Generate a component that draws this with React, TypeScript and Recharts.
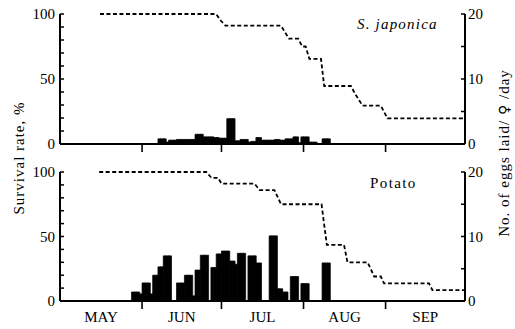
import React from "react";
import { ComposedChart, Bar, Line, XAxis, YAxis } from "recharts";

// day 0 = 1 May; days run to the end of September
const monthStarts = [0, 31, 61, 92, 123, 153];
const monthNames = ["MAY", "JUN", "JUL", "AUG", "SEP"];

const survivalTicks = [0, 10, 20, 30, 40, 50, 60, 70, 80, 90, 100];
const eggTicks = [0, 5, 10, 15, 20];

// [first day, last day, eggs laid per female per day]
const japonicaEggs = [
  [37, 39, 0.8], [40, 40, 0.3], [41, 43, 0.6], [44, 45, 0.7], [46, 50, 0.7],
  [51, 53, 1.5], [54, 57, 1.1], [58, 59, 1.0], [60, 62, 0.9], [63, 65, 3.9],
  [66, 67, 0.5], [68, 70, 0.7], [71, 71, 0.3], [72, 73, 0.4], [74, 75, 1.0],
  [76, 77, 0.6], [78, 80, 0.6], [81, 82, 0.7], [83, 84, 0.6], [85, 87, 0.8],
  [88, 89, 1.1], [90, 90, 0.2], [91, 93, 1.1], [94, 96, 0.3], [99, 101, 0.8],
];

const potatoEggs = [
  [27, 29, 1.4], [30, 30, 1.1], [31, 33, 2.8], [34, 34, 1.1], [35, 36, 4.0],
  [37, 38, 5.3], [39, 41, 7.0], [44, 46, 2.8], [47, 49, 4.0], [50, 50, 0.8],
  [51, 52, 4.8], [53, 55, 7.1], [57, 58, 5.2], [59, 60, 7.3], [61, 63, 7.75],
  [64, 65, 6.2], [66, 66, 5.7], [67, 69, 7.4], [71, 73, 7.0], [74, 75, 5.9],
  [79, 81, 10.1], [82, 83, 1.9], [84, 85, 1.4], [87, 89, 3.8], [91, 93, 2.7],
  [99, 101, 5.9],
];

// [day, survival %]
const japonicaSurvival = [
  [15.1, 100], [59.0, 100], [60.5, 95.5], [62.5, 91], [83.5, 91], [86.5, 81],
  [90.0, 81], [91.5, 75], [92.8, 75], [94.2, 65.5], [98.6, 65.5], [99.8, 44.6],
  [109.9, 44.6], [111.5, 38.5], [114.3, 29.5], [121.2, 29.5], [123.7, 19.7],
  [152.5, 19.7],
];

const potatoSurvival = [
  [14.8, 100], [55.3, 100], [57.2, 95.5], [59.7, 95.5], [61.0, 91], [73.5, 91],
  [75.4, 86], [81.0, 86], [83.5, 75], [98.8, 75], [100.8, 43.5], [107.3, 43.5],
  [108.6, 30], [116.2, 30], [118.7, 19], [121.2, 19], [122.4, 13.6],
  [139.4, 13.6], [140.7, 8.4], [152.6, 8.4],
];

const serif = '"Liberation Serif", "Times New Roman", Times, serif';

// one bar per day, spread out of the blocks
function dailyEggs(blocks: number[][]) {
  const rows: { x: number; eggs: number }[] = [];
  blocks.forEach(([a, b, v]) => {
    for (let d = a; d <= b; d++) rows.push({ x: d + 0.5, eggs: v });
  });
  return rows;
}

const survivalRows = (pts: number[][]) => pts.map(([d, p]) => ({ x: d, surv: p }));

const boundaries = monthStarts.slice(1, -1);
const midpoints = monthNames.map((_, i) => (monthStarts[i] + monthStarts[i + 1]) / 2);

const MonthTick = (props: any) => {
  const { x, y, payload, showLabels } = props;
  const i = midpoints.indexOf(payload.value);
  if (i >= 0) {
    if (!showLabels) return <g />;
    return (
      <text x={x} y={y + 21} textAnchor="middle" fill="#000" fontSize={15} style={{ fontFamily: serif }}>
        {monthNames[i]}
      </text>
    );
  }
  return <line x1={x} x2={x} y1={y} y2={y + 8} stroke="#000" strokeWidth={1.6} />;
};

const W = 515;
const AXIS_W = 30;
const tickStyle = { fill: "#000", fontSize: 15, style: { fontFamily: serif } };
const axisLine = { stroke: "#000", strokeWidth: 2 };
const tickLine = { stroke: "#000", strokeWidth: 1.5 };

// bars + x axis + egg axis in one chart; survival line with its axis in an
// overlay chart so its x values don't shrink the bar width
const Panel = ({ eggs, surv, showLabels, height, margin }: any) => {
  const xH = showLabels ? 25 : 10;
  return (
    <div style={{ position: "relative", width: W, height }}>
      <div style={{ position: "absolute", left: 0, top: 0 }}>
        <ComposedChart
          width={W}
          height={height}
          data={eggs}
          margin={{ ...margin, left: margin.left + AXIS_W }}
          barCategoryGap={0}
          barGap={0}
        >
          <XAxis
            dataKey="x"
            type="number"
            domain={[0, 153]}
            ticks={showLabels ? [...boundaries, ...midpoints] : boundaries}
            interval={0}
            tickSize={0}
            tickMargin={0}
            height={xH}
            axisLine={axisLine}
            tickLine={false}
            tick={(p: any) => <MonthTick {...p} showLabels={showLabels} />}
          />
          <YAxis
            yAxisId="e"
            orientation="right"
            domain={[0, 20]}
            ticks={eggTicks}
            interval={0}
            width={AXIS_W}
            tickSize={-4}
            tickMargin={7}
            axisLine={axisLine}
            tickLine={tickLine}
            tick={tickStyle}
            tickFormatter={(v: number) => (v % 10 === 0 ? String(v) : "")}
          />
          <Bar yAxisId="e" dataKey="eggs" fill="#000" stroke="#000" strokeWidth={0.7} isAnimationActive={false} />
        </ComposedChart>
      </div>
      <div style={{ position: "absolute", left: 0, top: 0, pointerEvents: "none" }}>
        <ComposedChart
          width={W}
          height={height}
          data={surv}
          margin={{
            top: margin.top,
            bottom: margin.bottom + xH,
            left: margin.left,
            right: margin.right + AXIS_W,
          }}
        >
          <XAxis dataKey="x" type="number" domain={[0, 153]} hide />
          <YAxis
            domain={[0, 100]}
            ticks={survivalTicks}
            interval={0}
            width={AXIS_W}
            tickSize={-4}
            tickMargin={9}
            axisLine={axisLine}
            tickLine={tickLine}
            tick={tickStyle}
            tickFormatter={(v: number) => (v % 50 === 0 ? String(v) : "")}
          />
          <Line
            dataKey="surv"
            type="linear"
            stroke="#000"
            strokeWidth={1.8}
            strokeDasharray="4 2.5"
            dot={false}
            isAnimationActive={false}
          />
        </ComposedChart>
      </div>
    </div>
  );
};

export default function App() {
  const textStyle: React.CSSProperties = {
    position: "absolute",
    fontFamily: serif,
    fontSize: 15,
    color: "#000",
    whiteSpace: "nowrap",
    lineHeight: "16px",
  };
  return (
    <div style={{ position: "absolute", left: 0, top: 0, width: 515, height: 329, background: "#fff" }}>
      <div style={{ position: "absolute", left: 0, top: 0 }}>
        <Panel
          eggs={dailyEggs(japonicaEggs)}
          surv={survivalRows(japonicaSurvival)}
          height={160}
          margin={{ top: 14, right: 20, bottom: 6, left: 30 }}
        />
      </div>
      <div style={{ position: "absolute", left: 0, top: 160 }}>
        <Panel
          eggs={dailyEggs(potatoEggs)}
          surv={survivalRows(potatoSurvival)}
          showLabels
          height={169}
          margin={{ top: 12, right: 20, bottom: 3, left: 30 }}
        />
      </div>
      <div style={{ ...textStyle, left: 357, top: 16, fontStyle: "italic", letterSpacing: 1.2 }}>S. japonica</div>
      <div style={{ ...textStyle, left: 370, top: 175, letterSpacing: 1.4 }}>Potato</div>
      <div
        style={{
          ...textStyle,
          left: 19,
          top: 158,
          letterSpacing: 1,
          transform: "translate(-50%, -50%) rotate(-90deg)",
        }}
      >
        Survival rate, %
      </div>
      <div
        style={{
          ...textStyle,
          left: 504,
          top: 153,
          letterSpacing: 1,
          transform: "translate(-50%, -50%) rotate(-90deg)",
        }}
      >
        No. of eggs laid/ <span style={{ fontSize: 14, fontFamily: "'DejaVu Sans', sans-serif" }}>♀</span> /day
      </div>
    </div>
  );
}
